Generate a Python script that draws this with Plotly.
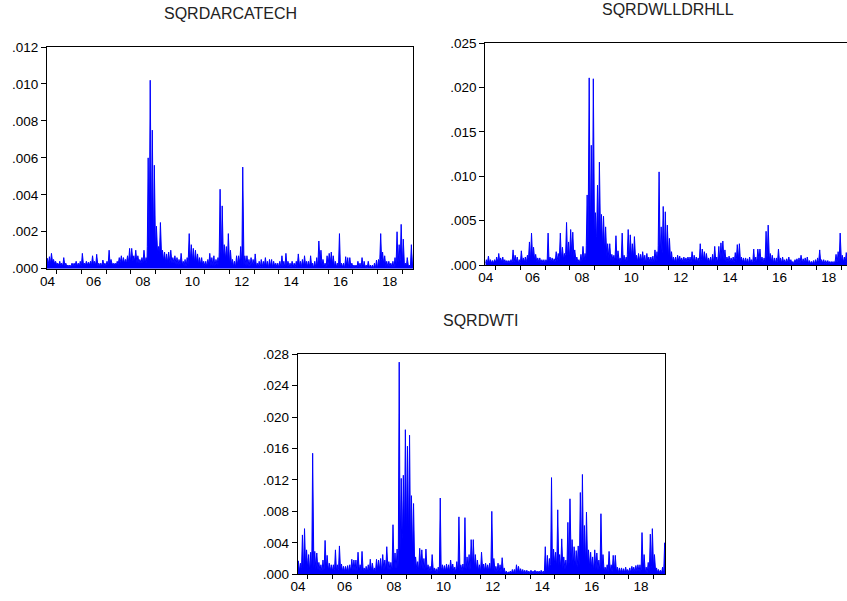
import pandas as pd
import plotly.graph_objects as go

# ---------------- data (monthly peak / typical level of daily squared returns) ----------------
months = pd.date_range("2004-08-01", "2019-06-01", freq="MS")  # Aug 2004 .. Jun 2019 (179 months)

arca_peak = (
    [0.00056, 0.00065, 0.00083, 0.0005, 0.0004]
    + [0.0003, 0.0004, 0.0003, 0.0006, 0.0003, 0.0002, 0.0002, 0.0003, 0.0003, 0.0004, 0.0003, 0.0004]
    + [0.00083, 0.0003, 0.0004, 0.00035, 0.0004, 0.0007, 0.0004, 0.00078, 0.0003, 0.0003, 0.00047, 0.0003]
    + [0.0004, 0.001, 0.0005, 0.0003, 0.0003, 0.0004, 0.0006, 0.0007, 0.0006, 0.0005, 0.0007, 0.0011]
    + [0.0011, 0.0007, 0.001, 0.0007, 0.0005, 0.0006, 0.001, 0.0006, 0.006, 0.0102, 0.0075, 0.0056]
    + [0.0023, 0.0012, 0.0025, 0.001, 0.0009, 0.0008, 0.0009, 0.001, 0.0006, 0.0007, 0.0006, 0.0005]
    + [0.00083, 0.0004, 0.0005, 0.0006, 0.0019, 0.0013, 0.0011, 0.001, 0.0008, 0.0006, 0.0006, 0.0004]
    + [0.0004, 0.0005, 0.00083, 0.0006, 0.0007, 0.0005, 0.0006, 0.0043, 0.0034, 0.0013, 0.0012, 0.0019]
    + [0.001, 0.0005, 0.0004, 0.0007, 0.0007, 0.0012, 0.0055, 0.0007, 0.0007, 0.0005, 0.0006, 0.0005]
    + [0.0008, 0.0003, 0.0004, 0.0005, 0.0004, 0.0006, 0.0004, 0.0005, 0.0005, 0.0004, 0.0003, 0.0003]
    + [0.0004, 0.0007, 0.0004, 0.00083, 0.0004, 0.0003, 0.0004, 0.0003, 0.0004, 0.0008, 0.0004, 0.0005]
    + [0.0007, 0.0004, 0.0004, 0.0007, 0.0003, 0.0004, 0.0006, 0.0015, 0.001, 0.0005, 0.0003, 0.0007]
    + [0.00083, 0.0009, 0.0007, 0.0004, 0.0003, 0.0019, 0.0003, 0.0003, 0.00065, 0.0006, 0.0006, 0.0003]
    + [0.0002, 0.0002, 0.0004, 0.0003, 0.0006, 0.0004, 0.0002, 0.0004, 0.0002, 0.0002, 0.0003, 0.00047]
    + [0.0005, 0.0019, 0.0009, 0.0007, 0.0004, 0.0004, 0.0003, 0.0004, 0.0006, 0.002, 0.0013, 0.0024]
    + [0.0016, 0.0003, 0.0006, 0.0002, 0.0013, 0.0008]
)
arca_base = (
    [0.0003, 0.0003, 0.00035, 0.0003, 0.00025]
    + [0.0002, 0.0002, 0.00015, 0.0002, 0.00015, 0.0001, 0.0001, 0.00015, 0.00015, 0.0002, 0.00015, 0.00015]
    + [0.0002, 0.00015, 0.0002, 0.0002, 0.0002, 0.0003, 0.0002, 0.0002, 0.00015, 0.00015, 0.0002, 0.00015]
    + [0.0002, 0.0003, 0.0003, 0.0002, 0.0002, 0.0002, 0.0003, 0.0004, 0.0003, 0.0003, 0.0004, 0.0004]
    + [0.0005, 0.0004, 0.0005, 0.0003, 0.0003, 0.0003, 0.0004, 0.0003, 0.0012, 0.0022, 0.0018, 0.0012]
    + [0.0009, 0.0008, 0.0009, 0.0006, 0.0004, 0.0003, 0.0003, 0.0003, 0.0003, 0.0003, 0.0002, 0.0002]
    + [0.0002, 0.0002, 0.00015, 0.0002, 0.0006, 0.0005, 0.0004, 0.0003, 0.0003, 0.0002, 0.0002, 0.00015]
    + [0.00015, 0.0002, 0.0002, 0.00015, 0.00015, 0.0002, 0.0002, 0.0009, 0.0007, 0.0005, 0.0005, 0.0004]
    + [0.0002, 0.00015, 0.0001, 0.0002, 0.0003, 0.0003, 0.0002, 0.0002, 0.00015, 0.00015, 0.0002, 0.00015]
    + [0.00015, 0.0001, 0.0001, 0.00012, 0.00015, 0.0002, 0.0001, 0.00012, 0.0001, 0.00012, 0.0001, 0.0001]
    + [0.00012, 0.00015, 0.0001, 0.00015, 0.0001, 0.00008, 0.0001, 0.0001, 0.00012, 0.0002, 0.00012, 0.00015]
    + [0.00015, 0.0001, 0.0001, 0.0001, 0.00008, 0.0001, 0.00012, 0.0003, 0.0003, 0.00015, 0.0001, 0.00015]
    + [0.0003, 0.0003, 0.0002, 0.0001, 0.0001, 0.00025, 0.0001, 0.00008, 0.0001, 0.0001, 0.00012, 0.0001]
    + [0.00006, 0.00006, 0.00008, 0.00006, 0.0001, 0.00006, 0.00005, 0.00008, 0.00005, 0.00005, 0.00006, 0.00008]
    + [0.0001, 0.0005, 0.0003, 0.0002, 0.0001, 0.0001, 0.0001, 0.00008, 0.0001, 0.0004, 0.0004, 0.0005]
    + [0.0002, 0.0001, 0.0001, 0.0001, 0.0002, 0.00015]
)

wll_peak = (
    [0.0006, 0.001, 0.0006, 0.0005, 0.0006]
    + [0.0009, 0.0013, 0.0008, 0.0009, 0.0006, 0.0005, 0.0005, 0.0006, 0.0017, 0.0011, 0.0009, 0.0006]
    + [0.0016, 0.0008, 0.0009, 0.0011, 0.0026, 0.0036, 0.002, 0.0012, 0.0008, 0.0008, 0.0006, 0.0006]
    + [0.0006, 0.0036, 0.0009, 0.0008, 0.0007, 0.0015, 0.0013, 0.0036, 0.002, 0.0013, 0.0048, 0.0026]
    + [0.004, 0.0037, 0.0017, 0.0009, 0.0006, 0.0012, 0.0021, 0.0013, 0.0079, 0.0211, 0.0135, 0.021]
    + [0.0059, 0.009, 0.0116, 0.0057, 0.0055, 0.0043, 0.0024, 0.0024, 0.0012, 0.0011, 0.0033, 0.0016]
    + [0.0008, 0.0036, 0.0011, 0.0009, 0.004, 0.0034, 0.0024, 0.0032, 0.0011, 0.0013, 0.0012, 0.0015]
    + [0.0011, 0.0013, 0.0009, 0.0009, 0.001, 0.0017, 0.0015, 0.0105, 0.0043, 0.0066, 0.006, 0.0045]
    + [0.003, 0.0015, 0.0009, 0.0009, 0.0011, 0.001, 0.0008, 0.0009, 0.0008, 0.0009, 0.0009, 0.0015]
    + [0.0011, 0.0009, 0.0008, 0.0024, 0.0018, 0.0015, 0.0013, 0.0008, 0.0009, 0.0012, 0.0021, 0.0009]
    + [0.0021, 0.0025, 0.0027, 0.0017, 0.0009, 0.001, 0.0008, 0.0009, 0.0014, 0.0023, 0.0024, 0.0009]
    + [0.0008, 0.0008, 0.0007, 0.0009, 0.0006, 0.0018, 0.0009, 0.0018, 0.0018, 0.0009, 0.0008, 0.0038]
    + [0.0045, 0.0013, 0.0011, 0.0008, 0.0008, 0.0018, 0.0008, 0.0009, 0.0006, 0.0007, 0.0009, 0.0006]
    + [0.0004, 0.0006, 0.0007, 0.0008, 0.0011, 0.0007, 0.0008, 0.0009, 0.0005, 0.0004, 0.0005, 0.0006]
    + [0.0008, 0.0017, 0.0006, 0.0006, 0.0005, 0.0005, 0.0004, 0.0004, 0.0004, 0.0012, 0.0015, 0.0036]
    + [0.0011, 0.0009, 0.0014, 0.0008, 0.0006, 0.0007]
)
wll_base = (
    [0.0002, 0.0003, 0.0002, 0.0002, 0.0003]
    + [0.0003, 0.0003, 0.0003, 0.0003, 0.0002, 0.0002, 0.0002, 0.0002, 0.0004, 0.0004, 0.0003, 0.0002]
    + [0.0003, 0.0003, 0.0003, 0.0004, 0.0008, 0.001, 0.0006, 0.0004, 0.0003, 0.0003, 0.0002, 0.0002]
    + [0.0003, 0.0006, 0.0004, 0.0003, 0.0003, 0.0005, 0.0006, 0.001, 0.0008, 0.0006, 0.0012, 0.001]
    + [0.0012, 0.001, 0.0008, 0.0005, 0.0003, 0.0004, 0.0006, 0.0005, 0.0022, 0.005, 0.0045, 0.004]
    + [0.003, 0.0032, 0.003, 0.0025, 0.002, 0.0012, 0.0009, 0.0008, 0.0005, 0.0005, 0.0008, 0.0005]
    + [0.0004, 0.0008, 0.0004, 0.0004, 0.0012, 0.001, 0.0008, 0.0008, 0.0005, 0.0004, 0.0004, 0.0004]
    + [0.0003, 0.0004, 0.0003, 0.0003, 0.0003, 0.0004, 0.0004, 0.0022, 0.0014, 0.0015, 0.0012, 0.0009]
    + [0.0007, 0.0004, 0.0003, 0.0003, 0.0004, 0.0004, 0.0003, 0.0003, 0.0003, 0.0003, 0.0003, 0.0004]
    + [0.0003, 0.0003, 0.0003, 0.0006, 0.0006, 0.0005, 0.0004, 0.0003, 0.0003, 0.0004, 0.0005, 0.0003]
    + [0.0006, 0.0007, 0.0007, 0.0005, 0.0003, 0.0003, 0.0003, 0.0003, 0.0004, 0.0007, 0.0006, 0.0003]
    + [0.0003, 0.0002, 0.0002, 0.0003, 0.0002, 0.0004, 0.0003, 0.0005, 0.0005, 0.0003, 0.0002, 0.0008]
    + [0.0011, 0.0004, 0.0003, 0.0002, 0.0002, 0.0004, 0.0002, 0.0002, 0.0002, 0.0002, 0.0002, 0.0002]
    + [0.0001, 0.0002, 0.0002, 0.0002, 0.0003, 0.0002, 0.0002, 0.0002, 0.00015, 0.00015, 0.00015, 0.0002]
    + [0.0002, 0.0005, 0.0002, 0.0002, 0.00015, 0.00015, 0.0001, 0.0001, 0.0001, 0.0004, 0.0004, 0.0008]
    + [0.0004, 0.0003, 0.0004, 0.0003, 0.0002, 0.0002]
)

wti_peak = (
    [0.0017, 0.0014, 0.005, 0.0058, 0.0031]
    + [0.0025, 0.0028, 0.0154, 0.0029, 0.0027, 0.0015, 0.0012, 0.0018, 0.0043, 0.0024, 0.0014, 0.0012]
    + [0.0012, 0.0031, 0.0012, 0.0036, 0.0013, 0.001, 0.001, 0.0011, 0.0012, 0.0019, 0.0018, 0.0018]
    + [0.0028, 0.0012, 0.0029, 0.0008, 0.001, 0.0012, 0.0019, 0.0014, 0.0008, 0.0019, 0.0018, 0.002]
    + [0.0025, 0.0018, 0.0035, 0.0016, 0.0015, 0.0063, 0.0027, 0.0032, 0.027, 0.0122, 0.0126, 0.0184]
    + [0.0163, 0.0177, 0.01, 0.009, 0.0022, 0.0016, 0.0033, 0.0031, 0.002, 0.0032, 0.0012, 0.001]
    + [0.0025, 0.0008, 0.0007, 0.0009, 0.0097, 0.0012, 0.0011, 0.0013, 0.0012, 0.0018, 0.0013, 0.0009]
    + [0.0016, 0.0073, 0.0012, 0.0013, 0.0072, 0.0022, 0.0025, 0.0044, 0.0044, 0.0025, 0.0018, 0.0012]
    + [0.0028, 0.0013, 0.0014, 0.0012, 0.0014, 0.008, 0.002, 0.001, 0.0014, 0.0012, 0.0021, 0.0008]
    + [0.0004, 0.0003, 0.0004, 0.0006, 0.0006, 0.0012, 0.001, 0.0007, 0.0006, 0.0005, 0.0005, 0.0004]
    + [0.0005, 0.0004, 0.0005, 0.0004, 0.0004, 0.0005, 0.0004, 0.0035, 0.0024, 0.002, 0.0123, 0.0032]
    + [0.0028, 0.0082, 0.0025, 0.0045, 0.0022, 0.0018, 0.0066, 0.0096, 0.0044, 0.0035, 0.003, 0.0036]
    + [0.0104, 0.0127, 0.0062, 0.0079, 0.0031, 0.0028, 0.0022, 0.0031, 0.0027, 0.0018, 0.0077, 0.0025]
    + [0.0009, 0.0012, 0.0029, 0.0012, 0.0024, 0.0024, 0.0009, 0.0008, 0.0008, 0.0007, 0.0009, 0.0006]
    + [0.0008, 0.001, 0.0009, 0.0011, 0.0012, 0.0012, 0.0053, 0.0025, 0.0009, 0.0015, 0.0051, 0.0058]
    + [0.0025, 0.0008, 0.0006, 0.0005, 0.0009, 0.004]
)
wti_base = (
    [0.0006, 0.0005, 0.0008, 0.001, 0.0007]
    + [0.0006, 0.0007, 0.0008, 0.0007, 0.0006, 0.0005, 0.0004, 0.0005, 0.0008, 0.0006, 0.0004, 0.0004]
    + [0.0004, 0.0006, 0.0004, 0.0006, 0.0004, 0.0003, 0.0003, 0.0003, 0.0004, 0.0005, 0.0004, 0.0004]
    + [0.0006, 0.0004, 0.0005, 0.0003, 0.0003, 0.0003, 0.0004, 0.0004, 0.0003, 0.0005, 0.0005, 0.0005]
    + [0.0006, 0.0005, 0.0008, 0.0005, 0.0005, 0.0009, 0.0008, 0.0009, 0.003, 0.0045, 0.005, 0.005]
    + [0.0045, 0.004, 0.003, 0.0022, 0.0008, 0.0006, 0.0008, 0.0007, 0.0006, 0.0007, 0.0004, 0.0003]
    + [0.0005, 0.0003, 0.0002, 0.0003, 0.0008, 0.0005, 0.0004, 0.0004, 0.0004, 0.0005, 0.0004, 0.0003]
    + [0.0005, 0.0008, 0.0004, 0.0004, 0.0009, 0.0006, 0.0006, 0.0009, 0.0009, 0.0007, 0.0005, 0.0004]
    + [0.0005, 0.0004, 0.0004, 0.0004, 0.0004, 0.0008, 0.0005, 0.0003, 0.0004, 0.0003, 0.0004, 0.0003]
    + [0.0001, 0.0001, 0.00012, 0.00015, 0.00015, 0.0002, 0.0002, 0.00015, 0.00012, 0.0001, 0.0001, 0.0001]
    + [0.00012, 0.0001, 0.00012, 0.0001, 0.0001, 0.0001, 0.00012, 0.0004, 0.0005, 0.0006, 0.0012, 0.0014]
    + [0.0012, 0.0014, 0.001, 0.0012, 0.0008, 0.0006, 0.0012, 0.0015, 0.0012, 0.001, 0.0009, 0.0012]
    + [0.0018, 0.0018, 0.0014, 0.0012, 0.0008, 0.0008, 0.0006, 0.0008, 0.0006, 0.0005, 0.0008, 0.0005]
    + [0.0003, 0.0003, 0.0005, 0.0003, 0.0005, 0.0005, 0.0003, 0.0002, 0.0002, 0.0002, 0.0002, 0.0002]
    + [0.0002, 0.0004, 0.0003, 0.0003, 0.0003, 0.0003, 0.0006, 0.0004, 0.0002, 0.0004, 0.0008, 0.001]
    + [0.0006, 0.0003, 0.0002, 0.0002, 0.0002, 0.0005]
)

titles = ["SQRDARCATECH", "SQRDWLLDRHLL", "SQRDWTI"]

tick_years = [2004, 2006, 2008, 2010, 2012, 2014, 2016, 2018]
tick_labels = ["04", "06", "08", "10", "12", "14", "16", "18"]
year_marks = list(range(2005, 2020))

y1_vals = [0.0, 0.002, 0.004, 0.006, 0.008, 0.010, 0.012]
y1_text = [".000", ".002", ".004", ".006", ".008", ".010", ".012"]
y2_vals = [0.0, 0.005, 0.010, 0.015, 0.020, 0.025]
y2_text = [".000", ".005", ".010", ".015", ".020", ".025"]
y3_vals = [0.0, 0.004, 0.008, 0.012, 0.016, 0.020, 0.024, 0.028]
y3_text = [".000", ".004", ".008", ".012", ".016", ".020", ".024", ".028"]

# ---------------- build ----------------
W, H = 847, 601
BLUE = "#0000FF"
FONT = "Arial, 'Liberation Sans', sans-serif"


def spikes(peak, base):
    xs, ys = [], []
    for m, p, b in zip(months, peak, base):
        xs += [m + pd.Timedelta(days=1), m + pd.Timedelta(days=14), m + pd.Timedelta(days=27)]
        ys += [b, p, b]
    return [x.strftime("%Y-%m-%d") for x in xs], ys


fig = go.Figure()
for i, (pk, bs) in enumerate([(arca_peak, arca_base), (wll_peak, wll_base), (wti_peak, wti_base)]):
    xs, ys = spikes(pk, bs)
    fig.add_trace(go.Scatter(
        x=xs, y=ys, mode="lines", line=dict(color=BLUE, width=1),
        fill="tozeroy", fillcolor=BLUE, hoverinfo="skip", showlegend=False,
        xaxis="x" if i == 0 else f"x{i+1}", yaxis="y" if i == 0 else f"y{i+1}",
    ))


def px_dom(a, b, total):
    return [a / total, b / total]


panels = [
    dict(l=47, r=413, t=47, b=268.7, rng=["2004-08-10", "2019-06-08"], yv=y1_vals, yt=y1_text, ymax=0.012, mirror=True),
    dict(l=485.3, r=847, t=43.3, b=265, rng=["2004-07-31", "2019-03-26"], yv=y2_vals, yt=y2_text, ymax=0.025, mirror=False),
    dict(l=297.7, r=665, t=354.3, b=574.2, rng=["2004-08-06", "2019-06-20"], yv=y3_vals, yt=y3_text, ymax=0.028, mirror=True),
]

layout = dict(
    width=W, height=H, margin=dict(l=0, r=0, t=0, b=0, autoexpand=False),
    paper_bgcolor="white", plot_bgcolor="white",
    font=dict(family=FONT, size=13.5, color="black"),
    annotations=[],
)

for i, p in enumerate(panels):
    start = pd.Timestamp(p["rng"][0])
    label_pos = []
    for y in tick_years:
        d = pd.Timestamp(f"{y}-07-01")
        if d < start:
            d = start + pd.Timedelta(days=6)
        label_pos.append(d.strftime("%Y-%m-%d"))
    sfx = "" if i == 0 else str(i + 1)
    layout["xaxis" + sfx] = dict(
        type="date", domain=px_dom(p["l"], p["r"], W), anchor="y" + sfx, range=p["rng"],
        showline=True, linecolor="black", linewidth=1, mirror=True,
        showgrid=False, zeroline=False, automargin=False,
        tickmode="array", tickvals=label_pos, ticktext=tick_labels, ticks="",
        tickfont=dict(family=FONT, size=13.5, color="black"),
        minor=dict(tickmode="array", tickvals=[f"{y}-01-01" for y in year_marks],
                   ticks="outside", ticklen=4, tickcolor="black", tickwidth=1, showgrid=False),
    )
    layout["yaxis" + sfx] = dict(
        domain=[(H - p["b"]) / H, (H - p["t"]) / H], anchor="x" + sfx, range=[0, p["ymax"]],
        showline=True, linecolor="black", linewidth=1, mirror=p["mirror"],
        showgrid=False, zeroline=False, automargin=False,
        tickmode="array", tickvals=p["yv"], ticktext=p["yt"],
        ticks="outside", ticklen=5, tickcolor="black", tickwidth=1,
        tickfont=dict(family=FONT, size=13.5, color="black"),
    )
    layout["annotations"].append(dict(
        text=titles[i], xref="paper", yref="paper",
        x=(p["l"] + p["r"]) / 2 / W if i != 1 else 668 / W,
        y=(H - [13.3, 10, 320][i]) / H,
        xanchor="center", yanchor="middle", showarrow=False,
        font=dict(family=FONT, size=16, color="#222222"),
    ))

fig.update_layout(**layout)
fig.write_html(
    "out.html",
    config={"staticPlot": True, "displayModeBar": False},
    post_script="document.body.style.margin='0';document.body.style.overflow='hidden';",
)
